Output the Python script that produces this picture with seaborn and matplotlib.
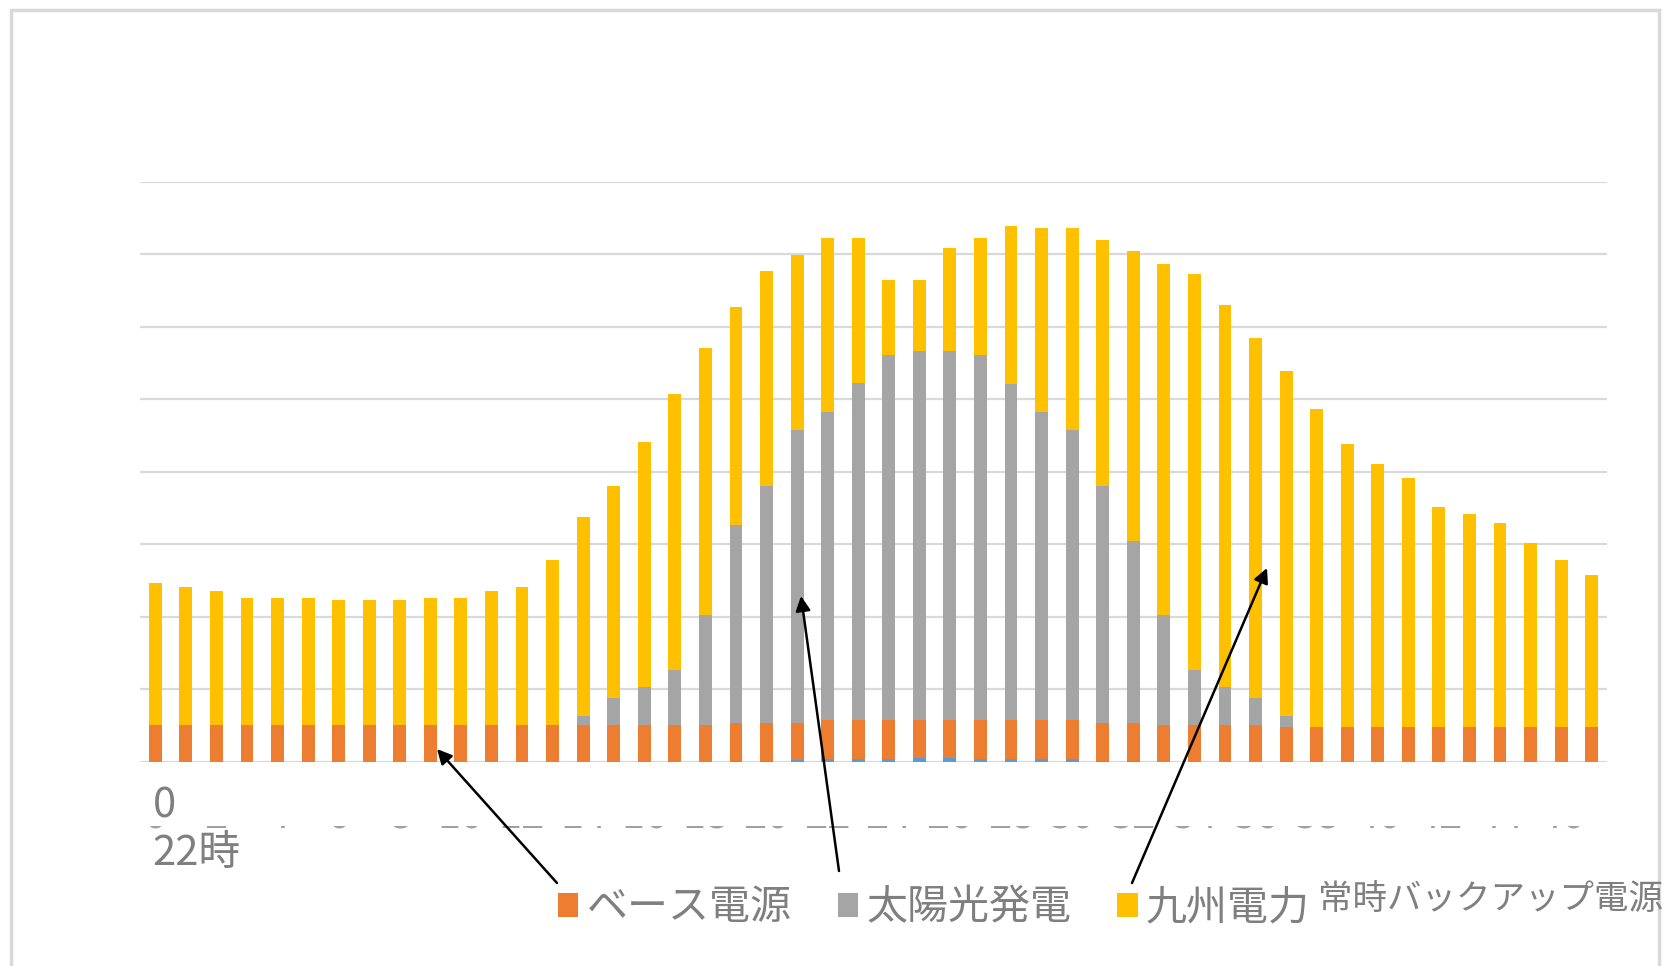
import numpy as np
import pandas as pd
import seaborn as sns
import matplotlib.pyplot as plt
from matplotlib.patches import Patch, Rectangle
from matplotlib.transforms import Bbox, TransformedBbox, blended_transform_factory

# 48 half-hour slots
slots = list(range(48))
slot_labels = [str(i) for i in range(0, 48, 2)]

# blue (small, not in legend)
other = [0.0] * 19 + [0.012, 0.012, 0.03, 0.033, 0.033, 0.033, 0.047, 0.047,
                      0.033, 0.033, 0.033, 0.033, 0.013, 0.013] + [0.0] * 15
# base power (orange top incl. blue)
base_top = ([0.5] * 19 + [0.54] * 3 + [0.58] * 9 + [0.54] * 2 + [0.5] * 4
            + [0.48] * 11)
solar = [0.0] * 14 + [0.13, 0.38, 0.53, 0.76, 1.53, 2.72, 3.26, 4.04, 4.25,
                      4.65, 5.03, 5.09, 5.09, 5.03, 4.63, 4.24, 4.00, 3.26,
                      2.50, 1.53, 0.76, 0.53, 0.38, 0.15] + [0.0] * 10
backup = [1.97, 1.91, 1.85, 1.76, 1.76, 1.76, 1.73, 1.73, 1.73, 1.76, 1.76,
          1.85, 1.91, 2.28, 2.75, 2.92, 3.38, 3.81, 3.67, 3.01, 2.97, 2.41,
          2.39, 1.99, 1.04, 0.98, 1.41, 1.61, 2.18, 2.54, 2.78, 3.40, 4.01,
          4.84, 5.47, 5.27, 4.96, 4.76, 4.38, 3.90, 3.62, 3.44, 3.04, 2.93,
          2.81, 2.53, 2.30, 2.09]

legend_labels = ["ベース電源", "太陽光発電", "九州電力"]
legend_sub = "常時バックアップ電源"

c_blue = "#5B9BD5"
c_orange = "#ED7D31"
c_gray = "#A5A5A5"
c_yellow = "#FFC000"
text_gray = "#7f7f7f"

df = pd.DataFrame({"slot": slots, "other": other, "base_top": base_top,
                   "solar": solar, "backup": backup})
df["solar_top"] = df["base_top"] + df["solar"]
df["total"] = df["solar_top"] + df["backup"]

sns.set_style("white")
plt.rcParams["font.family"] = ["Noto Sans CJK JP", "DejaVu Sans"]

fig = plt.figure(figsize=(16.68, 9.66), dpi=100)
W, H = 1668, 966
ax = fig.add_axes([140 / W, 1 - 761.7 / H, 1467 / W, 580 / H])

# stacked bars drawn from the top layer down
for col, color in [("total", c_yellow), ("solar_top", c_gray),
                   ("base_top", c_orange), ("other", c_blue)]:
    sns.barplot(data=df, x="slot", y=col, color=color, saturation=1,
                width=0.42, errorbar=None, linewidth=0, ax=ax)

ax.set_xlim(-0.5, 47.5)
ax.set_ylim(0, 8)
ax.set_yticks(range(9))
ax.yaxis.grid(True, color="#d9d9d9", linewidth=1.6)
ax.set_axisbelow(True)
ax.tick_params(length=0, labelleft=False, labelbottom=False)
ax.set_xlabel("")
ax.set_ylabel("")
for s in ax.spines.values():
    s.set_visible(False)

# axis labels (mostly clipped in the original)
fig.text(153 / W, 1 - 806 / H, "0", fontsize=30, color=text_gray,
         ha="left", va="center")
fig.text(152 / W, 1 - 853 / H, "22時", fontsize=30, color=text_gray,
         ha="left", va="center")
trans = blended_transform_factory(ax.transData, fig.transFigure)
clip = TransformedBbox(Bbox([[0, 1 - 829.5 / H], [1, 1 - 825.5 / H]]),
                       fig.transFigure)
for i, lab in enumerate(slot_labels):
    t = ax.text(i * 2, 1 - 828.5 / H, lab, transform=trans, fontsize=30,
                color="#a0a0a0", ha="center", va="baseline")
    t.set_clip_box(clip)
    t.set_clip_on(True)

# legend
handles = [Patch(facecolor=c, edgecolor="none")
           for c in [c_orange, c_gray, c_yellow]]
leg = fig.legend(handles, legend_labels, loc="center left",
                 bbox_to_anchor=(558 / W, 1 - 908 / H), ncol=3,
                 frameon=False, fontsize=29.5, handlelength=0.5,
                 handleheight=0.52, handletextpad=0.2, columnspacing=1.12,
                 borderpad=0, borderaxespad=0, labelcolor=text_gray)
fig.canvas.draw()
bb = leg.get_texts()[2].get_window_extent()
fig.text((bb.x1 + 8) / W, (bb.y0 + bb.y1) / 2 / H + 9 / H, legend_sub,
         fontsize=24.8, color=text_gray, ha="left", va="center")

# arrows
arrows = [((557, 883), (437, 749)), ((839, 871), (801, 596)),
          ((1132, 883), (1267, 568))]
for (tx, ty), (hx, hy) in arrows:
    ax.annotate("", xy=(hx, H - hy), xytext=(tx, H - ty),
                xycoords="figure pixels", textcoords="figure pixels",
                arrowprops=dict(arrowstyle="-|>", color="black", lw=1.8,
                                mutation_scale=22, shrinkA=0, shrinkB=0))

# chart frame
fig.patches.append(Rectangle((11 / W, -0.02), 1648 / W, 1.02 - 10 / H,
                             transform=fig.transFigure, fill=False,
                             edgecolor="#d9d9d9", linewidth=2.5))

fig.savefig("out.png", dpi=100)
